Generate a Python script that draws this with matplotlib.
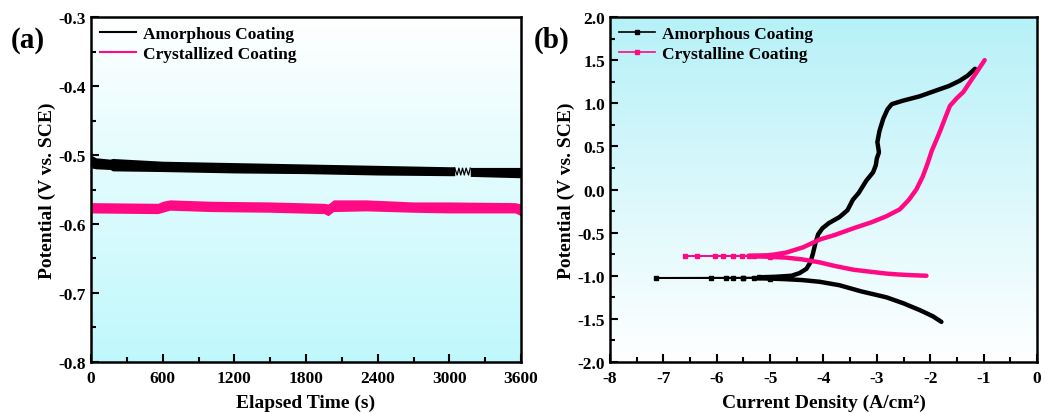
import numpy as np
import matplotlib
matplotlib.use("Agg")
import matplotlib.pyplot as plt
from matplotlib.colors import LinearSegmentedColormap
from matplotlib.ticker import MultipleLocator

plt.rcParams['font.family'] = ['Liberation Serif', 'DejaVu Serif']
plt.rcParams['font.weight'] = 'bold'
plt.rcParams['axes.labelweight'] = 'bold'

PINK = '#ff0a84'

# (a) open circuit potential, band envelopes
t_am = [0, 10, 40, 160, 180, 600, 1200, 1800, 2400, 3000, 3045, 3175, 3600]
am_up = [-0.489, -0.501, -0.504, -0.506, -0.505, -0.509, -0.511, -0.513, -0.515, -0.517, -0.517, -0.518, -0.518]
am_lo = [-0.512, -0.519, -0.520, -0.521, -0.523, -0.524, -0.526, -0.527, -0.529, -0.530, -0.530, -0.531, -0.533]
t_glitch = [3045, 3065, 3080, 3095, 3110, 3125, 3140, 3160, 3175]
v_glitch = [-0.519, -0.529, -0.519, -0.529, -0.519, -0.529, -0.519, -0.529, -0.519]

t_cr = [0, 560, 600, 660, 1000, 1500, 1950, 1985, 2030, 2300, 2700, 3000, 3550, 3600]
cr_up = [-0.569, -0.570, -0.567, -0.565, -0.567, -0.568, -0.570, -0.571, -0.565, -0.565, -0.568, -0.568, -0.569, -0.571]
cr_lo = [-0.584, -0.585, -0.583, -0.580, -0.582, -0.583, -0.585, -0.588, -0.582, -0.581, -0.583, -0.584, -0.584, -0.588]

# (b) polarization curves: log current density, potential
am_logi = [-1.79, -1.95, -2.19, -2.5, -2.82, -3.3, -3.7, -4.07, -4.4, -4.7, -5.0, -5.3, -5.51,
           -5.69, -5.83, -6.1, -7.14,
           -5.5, -5.2, -4.9, -4.6, -4.45, -4.32, -4.25, -4.2, -4.15, -4.1, -4.02, -3.9, -3.7,
           -3.55, -3.45, -3.34, -3.2, -3.07, -3.02, -3.0, -2.96, -2.99, -2.95, -2.88, -2.8,
           -2.72, -2.51, -2.2, -1.88, -1.65, -1.45, -1.3, -1.16]
am_E = [-1.535, -1.47, -1.40, -1.32, -1.25, -1.18, -1.11, -1.07, -1.05, -1.04, -1.033, -1.028, -1.026,
        -1.025, -1.024, -1.024, -1.024,
        -1.022, -1.018, -1.012, -1.0, -0.97, -0.92, -0.85, -0.75, -0.62, -0.52, -0.45, -0.39, -0.32,
        -0.24, -0.12, -0.04, 0.1, 0.2, 0.28, 0.36, 0.43, 0.55, 0.68, 0.82, 0.93,
        0.99, 1.03, 1.08, 1.15, 1.20, 1.26, 1.32, 1.40]

cr_logi = [-2.07, -2.3, -2.6, -2.82, -3.1, -3.44, -3.8, -4.07, -4.4, -4.7, -5.0, -5.3, -5.53,
           -5.7, -5.88, -6.03, -6.37, -6.6,
           -5.4, -5.0, -4.69, -4.38, -4.07, -3.8, -3.44, -3.1, -2.82, -2.57, -2.4, -2.26, -2.14,
           -2.05, -1.97, -1.88, -1.8, -1.72, -1.63, -1.5, -1.38, -1.25, -1.13, -0.98]
cr_E = [-1.0, -0.995, -0.985, -0.975, -0.955, -0.93, -0.885, -0.845, -0.81, -0.79, -0.78, -0.775, -0.772,
        -0.77, -0.77, -0.77, -0.77, -0.77,
        -0.768, -0.762, -0.73, -0.67, -0.58, -0.53, -0.45, -0.38, -0.31, -0.23, -0.12, 0.0, 0.15,
        0.3, 0.45, 0.58, 0.7, 0.83, 0.97, 1.06, 1.13, 1.25, 1.36, 1.5]


def gradient(ax, top, bottom):
    cmap = LinearSegmentedColormap.from_list('g', [bottom, top])
    grad = np.linspace(0, 1, 256).reshape(-1, 1)
    ax.imshow(grad, cmap=cmap, extent=[0, 1, 0, 1], transform=ax.transAxes,
              aspect='auto', origin='lower', zorder=0)


def style(ax):
    for s in ax.spines.values():
        s.set_linewidth(1.8)
    ax.tick_params(which='both', direction='in', top=False, right=False, width=1.5, labelsize=12.5)
    ax.tick_params(which='major', length=6)
    ax.tick_params(which='minor', length=3.5)
    ax.tick_params(axis='x', pad=6)


fig = plt.figure(figsize=(10.45, 4.14), dpi=100)
ax1 = fig.add_axes([0.0871, 0.1232, 0.4115, 0.8333])
ax2 = fig.add_axes([0.5837, 0.1232, 0.4086, 0.8333])

# panel (a)
gradient(ax1, '#ffffff', '#bff8fc')
t_am_a = np.array(t_am)
ax1.fill_between(t_am, am_up, am_lo, where=(t_am_a <= 3045), color='black', lw=0, zorder=2)
ax1.fill_between(t_am, am_up, am_lo, where=(t_am_a >= 3175), color='black', lw=0, zorder=2)
ax1.plot(t_glitch, v_glitch, color='black', lw=0.9, zorder=2)
ax1.fill_between(t_cr, cr_up, cr_lo, color=PINK, lw=0, zorder=2)
ax1.plot([], [], color='black', lw=1.5, label='Amorphous Coating')
ax1.plot([], [], color=PINK, lw=1.5, label='Crystallized Coating')
ax1.set_xlim(0, 3600)
ax1.set_ylim(-0.8, -0.3)
ax1.xaxis.set_major_locator(MultipleLocator(600))
ax1.xaxis.set_minor_locator(MultipleLocator(300))
ax1.yaxis.set_major_locator(MultipleLocator(0.1))
ax1.yaxis.set_minor_locator(MultipleLocator(0.05))
ax1.yaxis.set_major_formatter(plt.FuncFormatter(lambda v, p: f'{v:.1f}'))
ax1.set_xlabel('Elapsed Time (s)', fontsize=14, labelpad=5)
ax1.set_ylabel('Potential (V vs. SCE)', fontsize=14, labelpad=2)
ax1.legend(loc='upper left', frameon=False, handlelength=2.1,
           handletextpad=0.4, borderaxespad=0.1, labelspacing=0.25, prop={'weight': 'bold', 'size': 12.5})
style(ax1)
fig.text(0.010, 0.885, '(a)', fontsize=21, fontweight='bold')

# panel (b)
gradient(ax2, '#b6f1f8', '#ffffff')
for xs, ys, c, lab in [(am_logi, am_E, 'black', 'Amorphous Coating'),
                       (cr_logi, cr_E, PINK, 'Crystalline Coating')]:
    xs = np.array(xs)
    ys = np.array(ys)
    ax2.plot(xs, ys, color=c, lw=1.2, marker='s', ms=2.3, markevery=list(np.where(xs < -4.9)[0]),
             label=lab, zorder=3)
    ax2.plot(xs, np.ma.masked_where(xs < -5.45, ys), color=c, lw=3.2, solid_capstyle='round',
             solid_joinstyle='round', zorder=3)
ax2.set_xlim(-8, 0)
ax2.set_ylim(-2.0, 2.0)
ax2.xaxis.set_major_locator(MultipleLocator(1))
ax2.xaxis.set_minor_locator(MultipleLocator(0.5))
ax2.yaxis.set_major_locator(MultipleLocator(0.5))
ax2.yaxis.set_minor_locator(MultipleLocator(0.25))
ax2.xaxis.set_major_formatter(plt.FuncFormatter(lambda v, p: f'{v:.0f}'))
ax2.yaxis.set_major_formatter(plt.FuncFormatter(lambda v, p: f'{v:.1f}'))
ax2.set_xlabel('Current Density (A/cm²)', fontsize=14, labelpad=5)
ax2.set_ylabel('Potential (V vs. SCE)', fontsize=14, labelpad=2)
ax2.legend(loc='upper left', frameon=False, handlelength=2.1, handletextpad=0.4,
           borderaxespad=0.1, labelspacing=0.25, prop={'weight': 'bold', 'size': 12.5})
style(ax2)
fig.text(0.511, 0.885, '(b)', fontsize=21, fontweight='bold')

fig.savefig('out.png', dpi=100)
